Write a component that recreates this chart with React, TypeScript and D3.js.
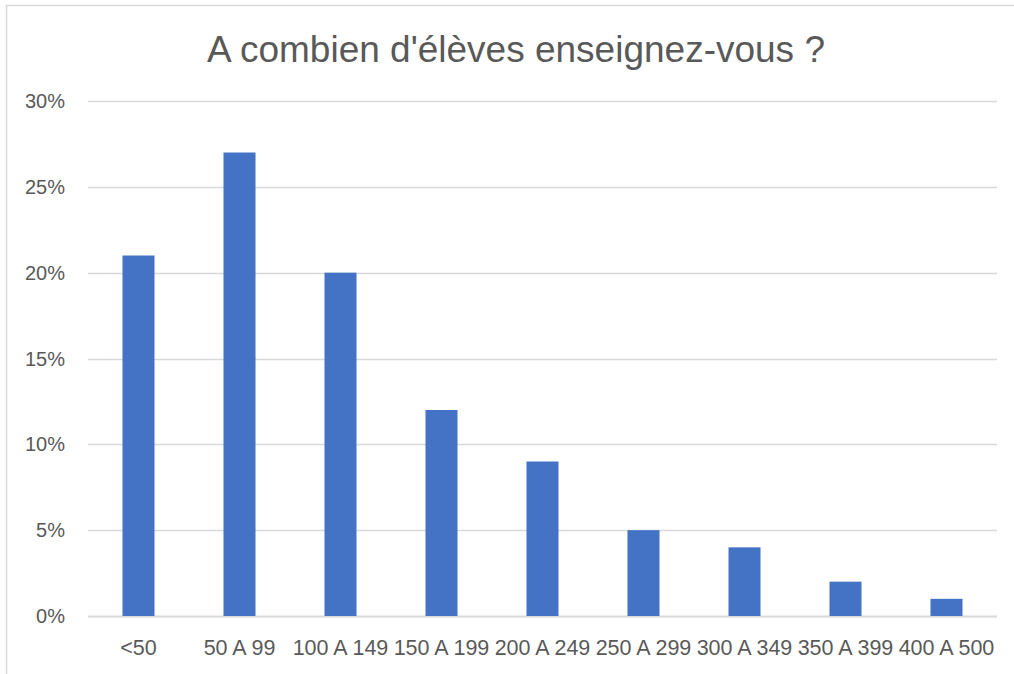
import { useEffect, useRef } from 'react'
import * as d3 from 'd3'

const categories = ['<50', '50 A 99', '100 A 149', '150 A 199', '200 A 249', '250 A 299', '300 A 349', '350 A 399', '400 A 500']
const values = [0.21, 0.27, 0.2, 0.12, 0.09, 0.05, 0.04, 0.02, 0.01]
const yTicks = [0, 0.05, 0.1, 0.15, 0.2, 0.25, 0.3]
const title = "A combien d'élèves enseignez-vous ?"

const W = 1014
const H = 674
const FONT = '"Liberation Sans", Arial, sans-serif'
const TEXT = '#595959'
const GRID = '#d9d9d9'
const BAR = '#4472C4'

export default function App() {
  const svgRef = useRef<SVGSVGElement>(null)

  useEffect(() => {
    const svgEl = svgRef.current
    if (!svgEl) return
    const svg = d3.select(svgEl)
    svg.selectAll('*').remove()

    const margin = { top: 101, right: 17, bottom: 58, left: 88 }
    const innerW = W - margin.left - margin.right
    const innerH = H - margin.top - margin.bottom

    const x = d3.scaleBand<string>().domain(categories).range([0, innerW]).paddingInner(0.683).paddingOuter(0.3415)
    const y = d3.scaleLinear().domain([0, 0.3]).range([innerH, 0])

    // chart border
    svg.append('rect')
      .attr('x', 6.5).attr('y', 5.5)
      .attr('width', W + 20).attr('height', H + 20)
      .style('fill', '#fff').style('stroke', GRID).style('stroke-width', 1.5)

    svg.append('text')
      .attr('x', 516).attr('y', 62)
      .attr('text-anchor', 'middle')
      .style('font-family', FONT).style('font-size', '37px').style('fill', TEXT)
      .text(title)

    const g = svg.append('g').attr('transform', `translate(${margin.left},${margin.top})`)

    // Gridlines
    g.append('g')
      .selectAll('line')
      .data(yTicks)
      .join('line')
      .attr('x1', 0).attr('x2', innerW)
      .attr('y1', d => Math.round(y(d)) + 0.5).attr('y2', d => Math.round(y(d)) + 0.5)
      .style('stroke', GRID).style('stroke-width', d => (d === 0 ? 2 : 1.5))

    // Y axis labels
    g.append('g')
      .selectAll('text')
      .data(yTicks)
      .join('text')
      .attr('x', -23).attr('y', d => y(d))
      .attr('dy', '0.35em')
      .attr('text-anchor', 'end')
      .style('font-family', FONT).style('font-size', '20px').style('fill', TEXT)
      .text(d => d3.format('.0%')(d))

    // Bars
    g.append('g')
      .selectAll('rect')
      .data(values)
      .join('rect')
      .attr('x', (_, i) => x(categories[i])!)
      .attr('y', d => y(d))
      .attr('width', x.bandwidth())
      .attr('height', d => innerH - y(d))
      .style('fill', BAR)

    // X axis labels
    g.append('g')
      .selectAll('text')
      .data(categories)
      .join('text')
      .attr('x', d => x(d)! + x.bandwidth() / 2)
      .attr('y', innerH + 39)
      .attr('text-anchor', 'middle')
      .style('font-family', FONT).style('font-size', '21.5px').style('fill', TEXT)
      .text(d => d)
  }, [])

  return (
    <div style={{ position: 'absolute', left: 0, top: 0, width: W, height: H, overflow: 'hidden', background: '#fff' }}>
      <svg ref={svgRef} width={W} height={H} />
    </div>
  )
}
